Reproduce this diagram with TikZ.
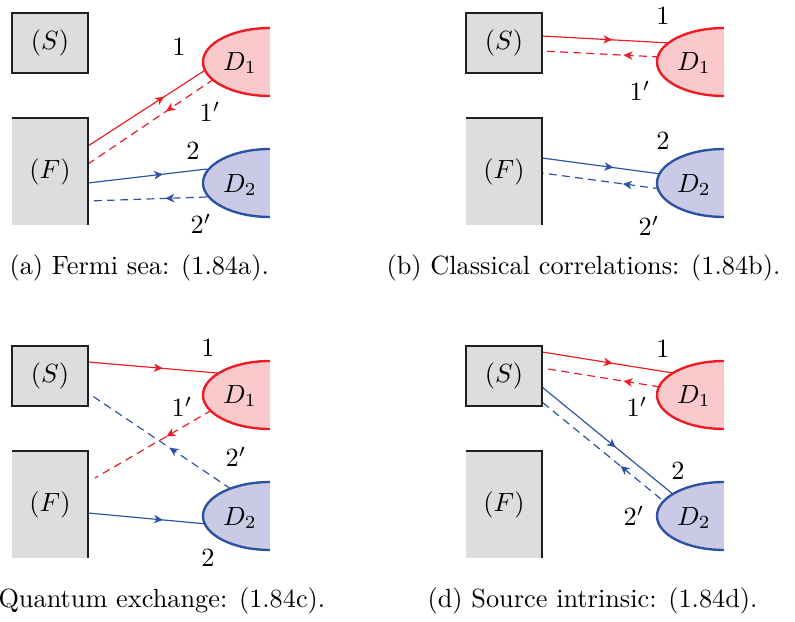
\documentclass[tikz,border=0pt]{standalone}
\usetikzlibrary{arrows.meta,decorations.markings}

\definecolor{detred}{HTML}{ED1C24}
\definecolor{detredfill}{HTML}{F9C9CC}
\definecolor{detblue}{HTML}{2B52A3}
\definecolor{detbluefill}{HTML}{CACAE6}
\definecolor{boxgray}{HTML}{DCDDDF}
\definecolor{boxedge}{HTML}{231F20}

\tikzset{
  wire/.style={line width=0.45pt},
  backwire/.style={wire, dash pattern=on 3pt off 2pt},
  midarrow/.style={postaction={decorate},
    decoration={markings,
      mark=at position #1 with {\arrow{Stealth[length=3.4pt,width=3.2pt,inset=1pt]}}}},
  srcbox/.style={draw=boxedge, line width=0.9pt, fill=boxgray,
    minimum width=28.9pt, minimum height=22.8pt, inner sep=0pt},
  seaedge/.style={draw=boxedge, line width=0.9pt},
  detector/.style={line width=0.9pt},
  lbl/.style={inner sep=0pt},
  caption/.style={anchor=base west, inner sep=0pt},
}

% Source box, Fermi sea and the two half-ellipse detectors of one panel
\newcommand{\detbase}[1]{%
  \node[srcbox] (#1S) at (50,43) {$(S)$};
  \fill[boxgray] (12,118) rectangle (88,225);
  \draw[seaedge] (12,118) -- (88,118) -- (88,225);
  \node[lbl] (#1F) at (50,172) {$(F)$};
  \filldraw[detector, draw=detred, fill=detredfill]
    (270,96) arc[start angle=90, end angle=270, x radius=67, y radius=34];
  \node[lbl] (#1D1) at (240,63) {$D_1$};
  \filldraw[detector, draw=detblue, fill=detbluefill]
    (270,217) arc[start angle=90, end angle=270, x radius=67, y radius=34];
  \node[lbl] (#1D2) at (240,185) {$D_2$};
}

\begin{document}
\begin{tikzpicture}[x=0.38pt, y=-0.38pt]
\useasboundingbox (0,0) rectangle (795,622);

% (a) Fermi sea
\begin{scope}
  \coordinate (aR1s) at (88,146);  \coordinate (aR1e) at (207,69);
  \coordinate (aR2s) at (214,79);  \coordinate (aR2e) at (88,164);
  \coordinate (aB1s) at (88,183);  \coordinate (aB1e) at (207,169);
  \coordinate (aB2s) at (207,197); \coordinate (aB2e) at (88,201);
  \draw[wire, detred, midarrow=0.64] (aR1s) -- (aR1e);
  \draw[backwire, detred, midarrow=0.38] (aR2s) -- (aR2e);
  \draw[wire, detblue, midarrow=0.63] (aB1s) -- (aB1e);
  \draw[backwire, detblue, midarrow=0.35] (aB2s) -- (aB2e);
  \detbase{a}
  \node[lbl] (aL1) at (179,47) {$1$};
  \node[lbl] (aL1p) at (210,112) {$1'$};
  \node[lbl] (aL2) at (193,151) {$2$};
  \node[lbl] (aL2p) at (201,224) {$2'$};
\end{scope}
\node[caption] (capa) at (9,275) {(a) Fermi sea: (1.84a).};

% (b) Classical correlations
\begin{scope}[shift={(454,0)}]
  \coordinate (bR1s) at (88,36);   \coordinate (bR1e) at (216,43);
  \coordinate (bR2s) at (206,57);  \coordinate (bR2e) at (88,51);
  \coordinate (bB1s) at (88,158);  \coordinate (bB1e) at (207,174);
  \coordinate (bB2s) at (207,189); \coordinate (bB2e) at (88,173);
  \draw[wire, detred, midarrow=0.55] (bR1s) -- (bR1e);
  \draw[backwire, detred, midarrow=0.31] (bR2s) -- (bR2e);
  \draw[wire, detblue, midarrow=0.6] (bB1s) -- (bB1e);
  \draw[backwire, detblue, midarrow=0.32] (bB2s) -- (bB2e);
  \detbase{b}
  \node[lbl] (bL1) at (209,16) {$1$};
  \node[lbl] (bL1p) at (186,91) {$1'$};
  \node[lbl] (bL2) at (209,141) {$2$};
  \node[lbl] (bL2p) at (195,226) {$2'$};
\end{scope}
\node[caption] (capb) at (386,275) {(b) Classical correlations: (1.84b).};

% (c) Quantum exchange
\begin{scope}[shift={(0,333)}]
  \coordinate (cR1s) at (88,29);   \coordinate (cR1e) at (217,40);
  \coordinate (cB2s) at (231,156); \coordinate (cB2e) at (88,60);
  \coordinate (cR2s) at (212,77);  \coordinate (cR2e) at (95,145);
  \coordinate (cB1s) at (88,180);  \coordinate (cB1e) at (207,191);
  \draw[wire, detred, midarrow=0.58] (cR1s) -- (cR1e);
  \draw[backwire, detblue, midarrow=0.43] (cB2s) -- (cB2e);
  \draw[backwire, detred, midarrow=0.39] (cR2s) -- (cR2e);
  \draw[wire, detblue, midarrow=0.63] (cB1s) -- (cB1e);
  \detbase{c}
  \node[lbl] (cL1) at (208,15) {$1$};
  \node[lbl] (cL1p) at (182,74) {$1'$};
  \node[lbl] (cL2p) at (236,124) {$2'$};
  \node[lbl] (cL2) at (208,225) {$2$};
\end{scope}
\node[caption] (capc) at (-2,608) {Quantum exchange: (1.84c).};

% (d) Source intrinsic
\begin{scope}[shift={(454,333)}]
  \coordinate (dR1s) at (88,19);   \coordinate (dR1e) at (219,40);
  \coordinate (dR2s) at (206,54);  \coordinate (dR2e) at (88,35);
  \coordinate (dB1s) at (88,54);   \coordinate (dB1e) at (220,162);
  \coordinate (dB2s) at (207,166); \coordinate (dB2e) at (88,69);
  \draw[wire, detred, midarrow=0.54] (dR1s) -- (dR1e);
  \draw[backwire, detred, midarrow=0.31] (dR2s) -- (dR2e);
  \draw[wire, detblue, midarrow=0.56] (dB1s) -- (dB1e);
  \draw[backwire, detblue, midarrow=0.34] (dB2s) -- (dB2e);
  \detbase{d}
  \node[lbl] (dL1) at (209,16) {$1$};
  \node[lbl] (dL1p) at (183,74) {$1'$};
  \node[lbl] (dL2) at (224,138) {$2$};
  \node[lbl] (dL2p) at (180,183) {$2'$};
\end{scope}
\node[caption] (capd) at (427,608) {(d) Source intrinsic: (1.84d).};

\end{tikzpicture}
\end{document}
